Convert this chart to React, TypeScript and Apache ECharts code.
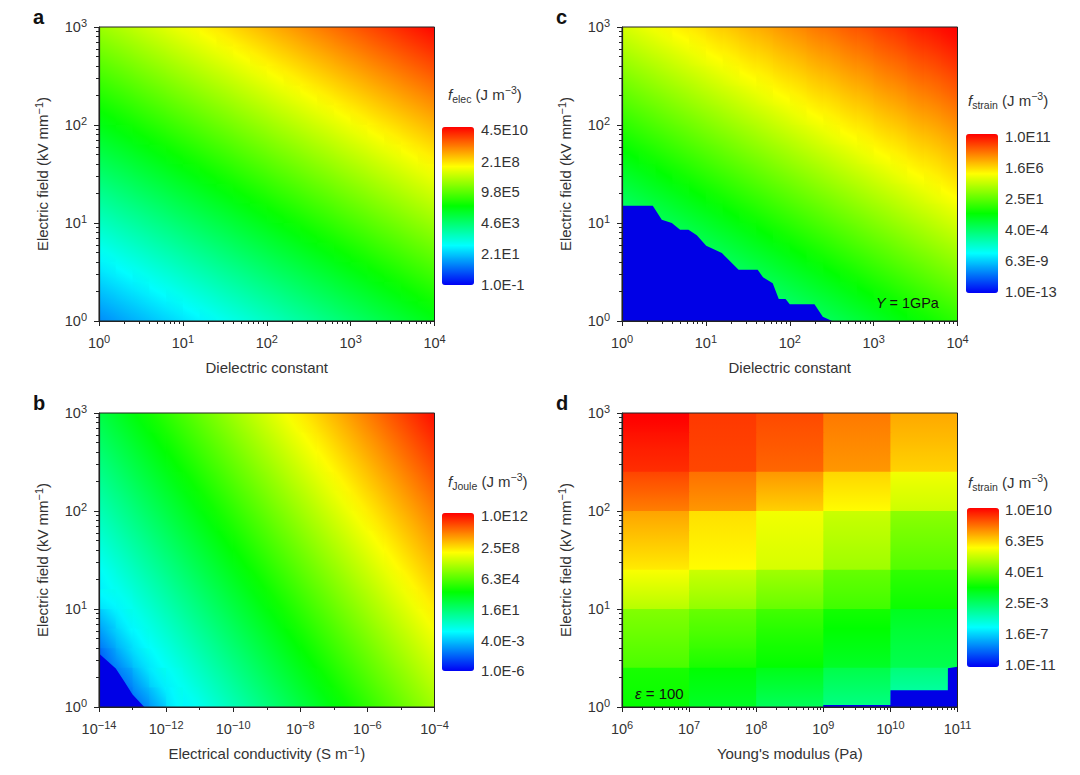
import React, { useEffect, useRef } from "react";
import * as echarts from "echarts";

// All values are log10 of the energy density (bottom row first).
const elecValues = [
  [0.9,1.1,1.3,1.5,1.7,1.9,2.1,2.3,2.5,2.7,2.9,3.1,3.3,3.5,3.7,3.9,4.1,4.3,4.5,4.7],
  [1.3,1.5,1.7,1.9,2.1,2.3,2.5,2.7,2.9,3.1,3.3,3.5,3.7,3.9,4.1,4.3,4.5,4.7,4.9,5.1],
  [1.7,1.9,2.1,2.3,2.5,2.7,2.9,3.1,3.3,3.5,3.7,3.9,4.1,4.3,4.5,4.7,4.9,5.1,5.3,5.5],
  [2.1,2.3,2.5,2.7,2.9,3.1,3.3,3.5,3.7,3.9,4.1,4.3,4.5,4.7,4.9,5.1,5.3,5.5,5.7,5.9],
  [2.5,2.7,2.9,3.1,3.3,3.5,3.7,3.9,4.1,4.3,4.5,4.7,4.9,5.1,5.3,5.5,5.7,5.9,6.1,6.3],
  [2.9,3.1,3.3,3.5,3.7,3.9,4.1,4.3,4.5,4.7,4.9,5.1,5.3,5.5,5.7,5.9,6.1,6.3,6.5,6.7],
  [3.3,3.5,3.7,3.9,4.1,4.3,4.5,4.7,4.9,5.1,5.3,5.5,5.7,5.9,6.1,6.3,6.5,6.7,6.9,7.1],
  [3.7,3.9,4.1,4.3,4.5,4.7,4.9,5.1,5.3,5.5,5.7,5.9,6.1,6.3,6.5,6.7,6.9,7.1,7.3,7.5],
  [4.1,4.3,4.5,4.7,4.9,5.1,5.3,5.5,5.7,5.9,6.1,6.3,6.5,6.7,6.9,7.1,7.3,7.5,7.7,7.9],
  [4.5,4.7,4.9,5.1,5.3,5.5,5.7,5.9,6.1,6.3,6.5,6.7,6.9,7.1,7.3,7.5,7.7,7.9,8.1,8.3],
  [4.9,5.1,5.3,5.5,5.7,5.9,6.1,6.3,6.5,6.7,6.9,7.1,7.3,7.5,7.7,7.9,8.1,8.3,8.5,8.7],
  [5.3,5.5,5.7,5.9,6.1,6.3,6.5,6.7,6.9,7.1,7.3,7.5,7.7,7.9,8.1,8.3,8.5,8.7,8.9,9.1],
  [5.7,5.9,6.1,6.3,6.5,6.7,6.9,7.1,7.3,7.5,7.7,7.9,8.1,8.3,8.5,8.7,8.9,9.1,9.3,9.5],
  [6.1,6.3,6.5,6.7,6.9,7.1,7.3,7.5,7.7,7.9,8.1,8.3,8.5,8.7,8.9,9.1,9.3,9.5,9.7,9.9],
  [6.5,6.7,6.9,7.1,7.3,7.5,7.7,7.9,8.1,8.3,8.5,8.7,8.9,9.1,9.3,9.5,9.7,9.9,10.1,10.3],
];
const jouleValues = [
  [-4.2,-4.2,-3.5,-2.5,-1.6,-1.25,-0.75,-0.25,0.25,0.75,1.25,1.75,2.25,2.75,3.25,3.75,4.25,4.75,5.25,5.75],
  [-4.2,-3.7,-2.7,-1.8,-1.35,-0.85,-0.35,0.15,0.65,1.15,1.65,2.15,2.65,3.15,3.65,4.15,4.65,5.15,5.65,6.15],
  [-3.9,-2.9,-2,-1.45,-0.95,-0.45,0.05,0.55,1.05,1.55,2.05,2.55,3.05,3.55,4.05,4.55,5.05,5.55,6.05,6.55],
  [-3.1,-2.2,-1.55,-1.05,-0.55,-0.05,0.45,0.95,1.45,1.95,2.45,2.95,3.45,3.95,4.45,4.95,5.45,5.95,6.45,6.95],
  [-2.4,-1.65,-1.15,-0.65,-0.15,0.35,0.85,1.35,1.85,2.35,2.85,3.35,3.85,4.35,4.85,5.35,5.85,6.35,6.85,7.35],
  [-1.6,-1.25,-0.75,-0.25,0.25,0.75,1.25,1.75,2.25,2.75,3.25,3.75,4.25,4.75,5.25,5.75,6.25,6.75,7.25,7.75],
  [-1.35,-0.85,-0.35,0.15,0.65,1.15,1.65,2.15,2.65,3.15,3.65,4.15,4.65,5.15,5.65,6.15,6.65,7.15,7.65,8.15],
  [-0.95,-0.45,0.05,0.55,1.05,1.55,2.05,2.55,3.05,3.55,4.05,4.55,5.05,5.55,6.05,6.55,7.05,7.55,8.05,8.55],
  [-0.55,-0.05,0.45,0.95,1.45,1.95,2.45,2.95,3.45,3.95,4.45,4.95,5.45,5.95,6.45,6.95,7.45,7.95,8.45,8.95],
  [-0.15,0.35,0.85,1.35,1.85,2.35,2.85,3.35,3.85,4.35,4.85,5.35,5.85,6.35,6.85,7.35,7.85,8.35,8.85,9.35],
  [0.25,0.75,1.25,1.75,2.25,2.75,3.25,3.75,4.25,4.75,5.25,5.75,6.25,6.75,7.25,7.75,8.25,8.75,9.25,9.75],
  [0.65,1.15,1.65,2.15,2.65,3.15,3.65,4.15,4.65,5.15,5.65,6.15,6.65,7.15,7.65,8.15,8.65,9.15,9.65,10.15],
  [1.05,1.55,2.05,2.55,3.05,3.55,4.05,4.55,5.05,5.55,6.05,6.55,7.05,7.55,8.05,8.55,9.05,9.55,10.05,10.55],
  [1.45,1.95,2.45,2.95,3.45,3.95,4.45,4.95,5.45,5.95,6.45,6.95,7.45,7.95,8.45,8.95,9.45,9.95,10.45,10.95],
  [1.85,2.35,2.85,3.35,3.85,4.35,4.85,5.35,5.85,6.35,6.85,7.35,7.85,8.35,8.85,9.35,9.85,10.35,10.85,11.35],
];
const strainFieldValues = [
  [-7.4,-7,-6.6,-6.2,-5.8,-5.4,-5,-4.6,-4.2,-3.8,-3.4,-3,-2.6,-2.2,-1.8,-1.4,-1,-0.6,-0.2,0.2],
  [-6.6,-6.2,-5.8,-5.4,-5,-4.6,-4.2,-3.8,-3.4,-3,-2.6,-2.2,-1.8,-1.4,-1,-0.6,-0.2,0.2,0.6,1],
  [-5.8,-5.4,-5,-4.6,-4.2,-3.8,-3.4,-3,-2.6,-2.2,-1.8,-1.4,-1,-0.6,-0.2,0.2,0.6,1,1.4,1.8],
  [-5,-4.6,-4.2,-3.8,-3.4,-3,-2.6,-2.2,-1.8,-1.4,-1,-0.6,-0.2,0.2,0.6,1,1.4,1.8,2.2,2.6],
  [-4.2,-3.8,-3.4,-3,-2.6,-2.2,-1.8,-1.4,-1,-0.6,-0.2,0.2,0.6,1,1.4,1.8,2.2,2.6,3,3.4],
  [-3.4,-3,-2.6,-2.2,-1.8,-1.4,-1,-0.6,-0.2,0.2,0.6,1,1.4,1.8,2.2,2.6,3,3.4,3.8,4.2],
  [-2.6,-2.2,-1.8,-1.4,-1,-0.6,-0.2,0.2,0.6,1,1.4,1.8,2.2,2.6,3,3.4,3.8,4.2,4.6,5],
  [-1.8,-1.4,-1,-0.6,-0.2,0.2,0.6,1,1.4,1.8,2.2,2.6,3,3.4,3.8,4.2,4.6,5,5.3,5.7],
  [-1,-0.6,-0.2,0.2,0.6,1,1.4,1.8,2.2,2.6,3,3.4,3.8,4.2,4.6,5,5.3,5.7,6,6.4],
  [-0.2,0.2,0.6,1,1.4,1.8,2.2,2.6,3,3.4,3.8,4.2,4.6,5,5.3,5.7,6,6.4,6.7,7.1],
  [0.6,1,1.4,1.8,2.2,2.6,3,3.4,3.8,4.2,4.6,5,5.3,5.7,6,6.4,6.7,7.1,7.4,7.8],
  [1.4,1.8,2.2,2.6,3,3.4,3.8,4.2,4.6,5,5.3,5.7,6,6.4,6.7,7.1,7.4,7.8,8.1,8.5],
  [2.2,2.6,3,3.4,3.8,4.2,4.6,5,5.3,5.7,6,6.4,6.7,7.1,7.4,7.8,8.1,8.5,8.8,9.2],
  [3,3.4,3.8,4.2,4.6,5,5.3,5.7,6,6.4,6.7,7.1,7.4,7.8,8.1,8.5,8.8,9.2,9.5,9.9],
  [3.8,4.2,4.6,5,5.3,5.7,6,6.4,6.7,7.1,7.4,7.8,8.1,8.5,8.8,9.2,9.5,9.9,10.2,10.6],
];
const strainModulusValues = [
  [-0.3,-1.1,-2,-2.9,-4],
  [-0.1,-0.7,-1.3,-2.3,-3.3],
  [1.2,0.3,-0.3,-1.1,-2],
  [1.6,0.9,0.1,-0.7,-1.7],
  [2,1.4,0.6,-0.3,-1.3],
  [3.6,2.8,1.9,1,-0.1],
  [4.3,3.4,2.5,1.4,0.3],
  [5.4,4.9,4,2.9,1.4],
  [5.9,5.1,4.2,3.2,1.8],
  [6.4,5.3,4.4,3.5,2.2],
  [7.7,7.1,6,5,3.9],
  [8.3,7.5,6.6,5.4,4.3],
  [9.2,8.6,8,7,5.8],
  [9.5,8.7,8.2,7.2,6.1],
  [9.9,8.8,8.4,7.4,6.4],
];

// Outlines of the solid blue floors, as [log10 x, log10 E].
const jouleFloor = [[-14,0.545],[-13.5,0.394],[-13.25,0.264],[-13,0.127],[-12.65,0]];
const strainFieldFloor = [[0,1.177],[0.367,1.177],[0.474,1.034],[0.594,1],[0.693,0.93],[0.793,0.93],[0.892,0.874],[1.004,0.768],[1.191,0.693],[1.39,0.522],[1.618,0.522],[1.681,0.447],[1.797,0.386],[1.869,0.225],[1.95,0.225],[2,0.171],[2.295,0.171],[2.394,0.044],[2.506,0]];
const strainModulusFloor = [[9,0],[9,0.02],[10,0.02],[10.001,0.17],[10.856,0.17],[10.857,0.395],[11,0.41]];

const elecLabels = ["4.5E10","2.1E8","9.8E5","4.6E3","2.1E1","1.0E-1"];
const jouleLabels = ["1.0E12","2.5E8","6.3E4","1.6E1","4.0E-3","1.0E-6"];
const strainFieldLabels = ["1.0E11","1.6E6","2.5E1","4.0E-4","6.3E-9","1.0E-13"];
const strainModulusLabels = ["1.0E10","6.3E5","4.0E1","2.5E-3","1.6E-7","1.0E-11"];

const logMinor = [0.301,0.477,0.602,0.699,0.778,0.845,0.903,0.954];
const oddDecades = [-13,-11,-9,-7,-5];
const rainbow = ["#0000f5","#00ffff","#00ff00","#ffff00","#ff0000"];
const ink = "#333333";
const font = "'Liberation Sans', Arial, sans-serif";
const fieldName = "Electric field (kV mm{s|\u22121})";

function minorTicks(from: number, to: number) {
  const out: number[] = [];
  for (let d = from; d < to; d++) logMinor.forEach((m) => out.push(d + m));
  return out;
}

const panels = [
  { letter: "a", left: 99, top: 27, sub: "elec", rows: elecValues, xMin: 0, xMax: 4, xInterval: 1, xStep: 0.2, xName: "Dielectric constant", blocks: null as number[] | null,
    vMin: -1, vMax: 10.65, labels: elecLabels, floor: null as number[][] | null, xMinor: minorTicks(0, 4), barX: 442, barY: 127, barH: 158, labelX: 481, labelYs: [130,162,192,223,254,285], titleX: 448, titleY: 94 },
  { letter: "b", left: 99, top: 413, sub: "Joule", rows: jouleValues, xMin: -14, xMax: -4, xInterval: 2, xStep: 0.5, xName: "Electrical conductivity (S m{s|\u22121})", blocks: null,
    vMin: -6, vMax: 12, labels: jouleLabels, floor: jouleFloor, xMinor: oddDecades, barX: 442, barY: 513, barH: 158, labelX: 481, labelYs: [516,548,579,610,641,671], titleX: 448, titleY: 481 },
  { letter: "c", left: 622, top: 27, sub: "strain", rows: strainFieldValues, xMin: 0, xMax: 4, xInterval: 1, xStep: 0.2, xName: "Dielectric constant", blocks: null,
    vMin: -13, vMax: 11, labels: strainFieldLabels, floor: strainFieldFloor, xMinor: minorTicks(0, 4), barX: 966, barY: 134, barH: 159, labelX: 1005, labelYs: [137,168,199,230,261,292], titleX: 968, titleY: 100 },
  { letter: "d", left: 622, top: 413, sub: "strain", rows: strainModulusValues, xMin: 6, xMax: 11, xInterval: 1, xStep: 1, xName: "Young's modulus (Pa)", blocks: [2,5,7,10,12],
    vMin: -11, vMax: 10, labels: strainModulusLabels, floor: strainModulusFloor, xMinor: minorTicks(6, 11), barX: 967, barY: 508, barH: 159, labelX: 1005, labelYs: [510,541,572,603,634,665], titleX: 968, titleY: 482 },
];

const plotW = 335.5;
const plotH = 294;
const yStep = 0.2;
const supRich = { s: { fontSize: 11, verticalAlign: "top", lineHeight: 19, color: ink, fontFamily: font } };

function tickLabel(v: number) {
  return `10{s|${String(Math.round(v)).replace("-", "\u2212")}}`;
}

const rainbowRgb = rainbow.map((h) => [1, 3, 5].map((p) => parseInt(h.slice(p, p + 2), 16)));
function colorAt(v: number, min: number, max: number) {
  const t = Math.min(1, Math.max(0, (v - min) / (max - min))) * (rainbowRgb.length - 1);
  const i = Math.min(rainbowRgb.length - 2, Math.floor(t));
  const f = t - i;
  const c = rainbowRgb[i].map((a, n) => Math.round(a + (rainbowRgb[i + 1][n] - a) * f));
  return `rgb(${c[0]},${c[1]},${c[2]})`;
}

// Change of a cell's value per cell, from its neighbours; used only to shade the cell.
function slope(prev: number | undefined, next: number | undefined, here: number) {
  if (prev === undefined && next === undefined) return 0;
  if (prev === undefined) return (next as number) - here;
  if (next === undefined) return here - prev;
  return (next - prev) / 2;
}

function buildOption() {
  const grid: any[] = [], xAxis: any[] = [], yAxis: any[] = [], series: any[] = [], visualMap: any[] = [], graphic: any[] = [];
  const baseLabel = { color: ink, fontFamily: font, fontSize: 14.5, lineHeight: 19, rich: supRich, margin: 12 };
  const n = panels.length;
  panels.forEach((p, i) => {
    grid.push({ left: p.left, top: p.top, width: plotW, height: plotH, show: true, z: 10, borderColor: "#222", borderWidth: 1, backgroundColor: "transparent" });
    const nameStyle = { color: ink, fontFamily: font, fontSize: 15, lineHeight: 19, rich: supRich };
    xAxis[i] = {
      type: "value", gridIndex: i, min: p.xMin, max: p.xMax, interval: p.xInterval, position: "bottom", z: 20,
      name: p.xName, nameLocation: "middle", nameGap: 37, nameTextStyle: nameStyle,
      axisLine: { show: true, onZero: false, lineStyle: { color: "#222", width: 1.2 } },
      axisTick: { show: true, length: 5, lineStyle: { color: "#222" } },
      axisLabel: { ...baseLabel, formatter: tickLabel, hideOverlap: false, showMinLabel: true, showMaxLabel: true },
      splitLine: { show: false },
    };
    yAxis[i] = {
      type: "value", gridIndex: i, min: 0, max: 3, interval: 1, position: "left", z: 20,
      name: fieldName, nameLocation: "middle", nameGap: 47, nameRotate: 90, nameTextStyle: nameStyle,
      axisLine: { show: true, onZero: false, lineStyle: { color: "#222", width: 1.2 } },
      axisTick: { show: true, length: 5, lineStyle: { color: "#222" } },
      axisLabel: { ...baseLabel, formatter: tickLabel, hideOverlap: false, showMinLabel: true, showMaxLabel: true },
      splitLine: { show: false },
    };
    xAxis[i + n] = {
      type: "value", gridIndex: i, min: p.xMin, max: p.xMax, position: "bottom", z: 20,
      axisLine: { show: false, onZero: false }, axisLabel: { show: false }, splitLine: { show: false },
      axisTick: { show: true, length: 3, customValues: p.xMinor, lineStyle: { color: "#222" } },
    };
    yAxis[i + n] = {
      type: "value", gridIndex: i, min: 0, max: 3, position: "left", z: 20,
      axisLine: { show: false, onZero: false }, axisLabel: { show: false }, splitLine: { show: false },
      axisTick: { show: true, length: 3, customValues: minorTicks(0, 3), lineStyle: { color: "#222" } },
    };

    const cells: number[][] = [];
    p.rows.forEach((row, j) => row.forEach((v, k) => cells.push([p.xMin + k * p.xStep, j * yStep, v])));
    const step = p.xStep;
    const cols = p.rows[0].length;
    const sameBlock = (a: number, b: number) => !p.blocks || !p.blocks.some((e) => (a < e) !== (b < e));
    series.push({
      type: "custom", coordinateSystem: "cartesian2d", xAxisIndex: i, yAxisIndex: i, clip: true, silent: true,
      data: cells, encode: { x: 0, y: 1 }, z: 2,
      renderItem: (params: any, api: any) => {
        const a = api.coord([api.value(0), api.value(1)]);
        const b = api.coord([api.value(0) + step, api.value(1) + yStep]);
        const w = b[0] - a[0], h = a[1] - b[1];
        const k = params.dataIndex % cols, j = Math.floor(params.dataIndex / cols);
        const v = p.rows[j][k];
        const dk = p.blocks ? 0 : slope(p.rows[j][k - 1], p.rows[j][k + 1], v);
        const up = j + 1 < p.rows.length && sameBlock(j, j + 1) ? p.rows[j + 1][k] : undefined;
        const down = j > 0 && sameBlock(j, j - 1) ? p.rows[j - 1][k] : undefined;
        const dj = slope(down, up, v);
        const gx = dk / w, gy = -dj / h;
        const g = Math.hypot(gx, gy);
        let fill: any = api.visual("color");
        if (g > 1e-6) {
          const dx = gx / g, dy = gy / g;
          const half = (Math.abs(dx) * w + Math.abs(dy) * h) / 2;
          const cx = a[0] + w / 2, cy = b[1] + h / 2;
          fill = new echarts.graphic.LinearGradient(cx - dx * half, cy - dy * half, cx + dx * half, cy + dy * half, [
            { offset: 0, color: colorAt(v - g * half, p.vMin, p.vMax) },
            { offset: 0.5, color: colorAt(v, p.vMin, p.vMax) },
            { offset: 1, color: colorAt(v + g * half, p.vMin, p.vMax) },
          ], true);
        }
        return {
          type: "rect",
          shape: { x: a[0], y: b[1] - 0.9, width: w + 0.9, height: h + 0.9 },
          style: { fill },
        };
      },
    });
    visualMap.push({
      type: "continuous", seriesIndex: series.length - 1, dimension: 2, min: p.vMin, max: p.vMax,
      inRange: { color: rainbow }, show: true, calculable: false, left: p.barX, top: p.barY, padding: 0,
      itemWidth: 32, itemHeight: p.barH, text: undefined, showLabel: false, hoverLink: false,
    });
    if (p.floor) {
      series.push({
        type: "line", xAxisIndex: i, yAxisIndex: i, data: p.floor, showSymbol: false, symbol: "none", silent: true, z: 3,
        lineStyle: { width: 0 }, itemStyle: { color: "#0000e6" },
        areaStyle: { color: "#0000e6", origin: "start", opacity: 1 },
      });
    }
    graphic.push({ type: "text", x: p.left - 66, y: p.top - 10, z: 30,
      style: { text: p.letter, fontFamily: font, fontSize: 20, fontWeight: "bold", fill: "#111", verticalAlign: "middle" } });
    graphic.push({ type: "text", x: p.titleX, y: p.titleY, z: 30,
      style: {
        text: `{f|f}{b|${p.sub}}{t| (J m}{s|\u22123}{t|)}`, fill: ink, fontFamily: font, verticalAlign: "middle",
        rich: {
          f: { fontStyle: "italic", fontSize: 15, lineHeight: 20, fill: ink, fontFamily: font },
          b: { fontSize: 10.5, verticalAlign: "bottom", lineHeight: 20, fill: ink, fontFamily: font },
          t: { fontSize: 15, lineHeight: 20, fill: ink, fontFamily: font },
          s: { fontSize: 10.5, verticalAlign: "top", lineHeight: 20, fill: ink, fontFamily: font },
        },
      } });
    p.labels.forEach((t, k) => {
      graphic.push({ type: "text", x: p.labelX, y: p.labelYs[k], z: 30,
        style: { text: t, fontFamily: font, fontSize: 14.8, fill: ink, verticalAlign: "middle" } });
    });
  });
  graphic.push({ type: "text", x: 876, y: 303, z: 30, style: {
    text: "{i|Y}{t| = 1GPa}", fill: "#111", verticalAlign: "middle",
    rich: { i: { fontStyle: "italic", fontSize: 14.4, fontFamily: font, fill: "#111" }, t: { fontSize: 14.4, fontFamily: font, fill: "#111" } } } });
  graphic.push({ type: "text", x: 635, y: 693, z: 30, style: {
    text: "{i|\u03B5}{t| = 100}", fill: "#111", verticalAlign: "middle",
    rich: { i: { fontStyle: "italic", fontSize: 15, fontFamily: font, fill: "#111" }, t: { fontSize: 15, fontFamily: font, fill: "#111" } } } });
  return { animation: false, backgroundColor: "#ffffff", grid, xAxis, yAxis, series, visualMap, graphic };
}

export default function App() {
  const ref = useRef<HTMLDivElement | null>(null);
  useEffect(() => {
    document.body.style.margin = "0";
    const chart = echarts.init(ref.current!, undefined, { renderer: "svg" });
    chart.setOption(buildOption() as any);
    return () => chart.dispose();
  }, []);
  return <div ref={ref} style={{ width: 1080, height: 775 }} />;
}
